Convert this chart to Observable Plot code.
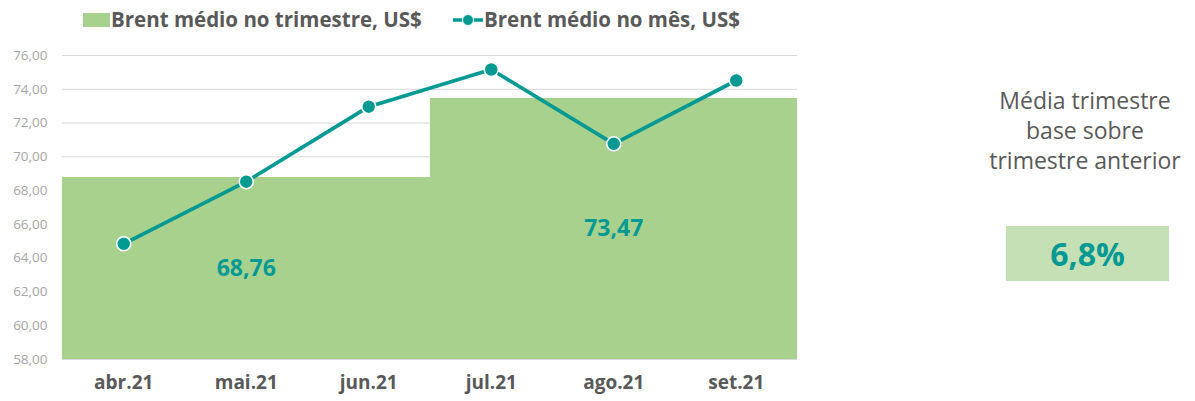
<!DOCTYPE html>
<html><head><meta charset="utf-8">
<script src="https://cdn.jsdelivr.net/npm/d3@7"></script>
<script src="https://cdn.jsdelivr.net/npm/@observablehq/plot@0.6"></script>
<style>
body{margin:0;background:#fff;font-family:"Open Sans",Lato,sans-serif;}
#wrap{position:relative;width:1195px;height:401px;overflow:hidden;}
#legend{position:absolute;left:0;top:0;width:820px;height:40px;}
.lg{position:absolute;top:5px;font-weight:bold;font-size:20.5px;color:#595959;white-space:nowrap;line-height:28px;}
#chart{position:absolute;left:0;top:40px;}
#side{position:absolute;left:975px;top:85px;width:220px;text-align:center;color:#595959;font-size:23px;line-height:30px;}
#box{position:absolute;left:1006px;top:226px;width:163px;height:55px;background:#c5e0b4;color:#009a93;font-weight:bold;font-size:32px;display:flex;align-items:center;justify-content:center;}
</style></head><body>
<div id="wrap">
  <div id="legend"></div>
  <div id="chart"></div>
  <div id="side">Média trimestre<br>base sobre<br>trimestre anterior</div>
  <div id="box"></div>
</div>
<script>
const months = ["abr.21","mai.21","jun.21","jul.21","ago.21","set.21"];
const monthly = [64.85, 68.53, 72.97, 75.17, 70.77, 74.52];
const quarterAvg = [68.76, 73.47];
const quarterLabels = ["68,76","73,47"];
const seriesNames = ["Brent médio no trimestre, US$","Brent médio no mês, US$"];
const variation = "6,8%";
const yTicks = [58,60,62,64,66,68,70,72,74,76];

const teal = "#009a93", green = "#a9d18e";
const font = "'Open Sans', Lato, sans-serif";

const monthData = months.map((m,i)=>({m, i, x: i+0.5, v: monthly[i]}));
const qData = quarterAvg.map((v,q)=>({x1: q*3, x2: q*3+3, v, label: quarterLabels[q], xm: q*3+1.5, ym: (58+v)/2}));

const fmt = d3.format(".2f");
const yFmt = d => fmt(d).replace(".", ",");
const xTicks = months.map((_,i)=>i+0.5);
const xFmt = d => months[Math.round(d-0.5)];
const plot = Plot.plot({
  width: 800, height: 361,
  marginLeft: 62, marginRight: 3, marginTop: 15, marginBottom: 42,
  style: {fontFamily: font, background: "transparent"},
  x: {domain: [0,6], label: null},
  y: {domain: [58,76], label: null},
  marks: [
    Plot.ruleY(yTicks, {stroke: "#d9d9d9", strokeWidth: 1}),
    Plot.rectY(qData, {x1: "x1", x2: "x2", y1: 58, y2: "v", fill: green, shapeRendering: "crispEdges"}),
    Plot.line(monthData, {x: "x", y: "v", stroke: teal, strokeWidth: 3.75}),
    Plot.dot(monthData, {x: "x", y: "v", r: 7, fill: teal, stroke: "#fff", strokeWidth: 1.5}),
    Plot.text(qData, {x: "xm", y: "ym", text: "label", fill: teal, fontSize: 23, fontWeight: "bold"}),
    Plot.axisY({ticks: yTicks, tickFormat: yFmt, tickSize: 0, tickPadding: 15, fontSize: 13.5, color: "#a6a6a6", label: null}),
    Plot.axisX({ticks: xTicks, tickFormat: xFmt, tickSize: 0, tickPadding: 16, fontSize: 19, fontWeight: "bold", color: "#595959", label: null})
  ]
});
document.getElementById("chart").appendChild(plot);

// Legend
const lg = document.getElementById("legend");
lg.innerHTML = `
 <div style="position:absolute;left:83px;top:13px;width:27px;height:14px;background:${green}"></div>
 <div class="lg" style="left:111px">${seriesNames[0]}</div>
 <svg style="position:absolute;left:452px;top:10px" width="32" height="20"><line x1="1" y1="10" x2="31" y2="10" stroke="${teal}" stroke-width="3.5"/><circle cx="16" cy="10" r="5.5" fill="${teal}" stroke="#fff" stroke-width="1"/></svg>
 <div class="lg" style="left:484px">${seriesNames[1]}</div>`;
document.getElementById("box").textContent = variation;
</script>
</body></html>
